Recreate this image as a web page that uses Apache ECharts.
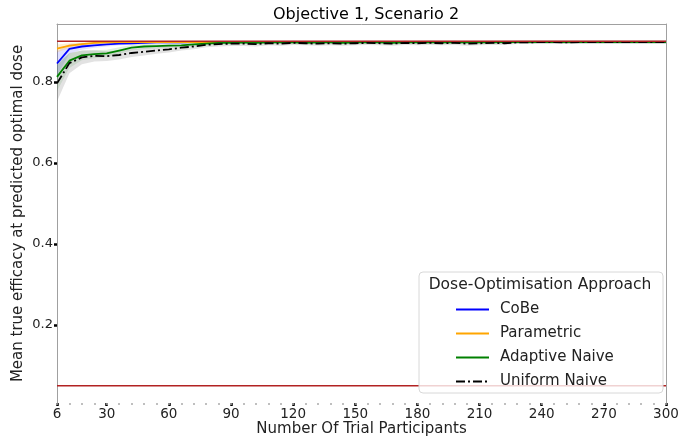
<!DOCTYPE html>
<html>
<head>
<meta charset="utf-8">
<script src="https://cdn.jsdelivr.net/npm/echarts@6/dist/echarts.min.js"></script>
<style>
  html, body { margin: 0; padding: 0; background: #fff; }
  #chart { width: 680px; height: 443px; }
</style>
</head>
<body>
<div id="chart"></div>
<script>
// number of trial participants
var participants = [6, 12, 18, 24, 30, 36, 42, 48, 54, 60, 66, 72, 78, 84, 90, 96, 102, 108, 114, 120,
  126, 132, 138, 144, 150, 156, 162, 168, 174, 180, 186, 192, 198, 204, 210, 216, 222, 228, 234, 240,
  246, 252, 258, 264, 270, 276, 282, 288, 294, 300];

var cobe = [0.845, 0.881, 0.887, 0.890, 0.892, 0.894, 0.895, 0.896, 0.897, 0.897, 0.897, 0.898, 0.898, 0.898, 0.898, 0.898, 0.898, 0.898, 0.898, 0.898,
  0.898, 0.898, 0.898, 0.898, 0.898, 0.898, 0.898, 0.898, 0.898, 0.898, 0.898, 0.898, 0.898, 0.898, 0.898, 0.898, 0.898, 0.898, 0.898, 0.898,
  0.898, 0.898, 0.898, 0.898, 0.898, 0.898, 0.898, 0.898, 0.898, 0.898];
var cobeHw = [0.030, 0.012, 0.008, 0.006, 0.005, 0.004, 0.004, 0.003, 0.003, 0.003, 0.003, 0.003, 0.003, 0.003, 0.003, 0.003, 0.003, 0.003, 0.003, 0.003,
  0.003, 0.003, 0.003, 0.003, 0.003, 0.003, 0.003, 0.003, 0.003, 0.003, 0.003, 0.003, 0.003, 0.003, 0.003, 0.003, 0.003, 0.003, 0.003, 0.003,
  0.003, 0.003, 0.003, 0.003, 0.003, 0.003, 0.003, 0.003, 0.003, 0.003];

var parametric = [0.882, 0.889, 0.893, 0.896, 0.897, 0.898, 0.898, 0.898, 0.898, 0.898, 0.898, 0.898, 0.898, 0.898, 0.898, 0.898, 0.898, 0.898, 0.898, 0.898,
  0.898, 0.898, 0.898, 0.898, 0.898, 0.898, 0.898, 0.898, 0.898, 0.898, 0.898, 0.898, 0.898, 0.898, 0.898, 0.898, 0.898, 0.898, 0.898, 0.898,
  0.898, 0.898, 0.898, 0.898, 0.898, 0.898, 0.898, 0.898, 0.898, 0.898];
var parametricHw = [0.010, 0.006, 0.004, 0.003, 0.002, 0.002, 0.002, 0.002, 0.002, 0.002, 0.002, 0.002, 0.002, 0.002, 0.002, 0.002, 0.002, 0.002, 0.002, 0.002,
  0.002, 0.002, 0.002, 0.002, 0.002, 0.002, 0.002, 0.002, 0.002, 0.002, 0.002, 0.002, 0.002, 0.002, 0.002, 0.002, 0.002, 0.002, 0.002, 0.002,
  0.002, 0.002, 0.002, 0.002, 0.002, 0.002, 0.002, 0.002, 0.002, 0.002];

var adaptive = [0.812, 0.852, 0.865, 0.868, 0.870, 0.877, 0.884, 0.887, 0.888, 0.889, 0.890, 0.892, 0.894, 0.896, 0.896, 0.897, 0.896, 0.897, 0.897, 0.897,
  0.896, 0.897, 0.897, 0.896, 0.897, 0.897, 0.897, 0.896, 0.897, 0.897, 0.898, 0.897, 0.897, 0.897, 0.897, 0.897, 0.898, 0.898, 0.898, 0.898,
  0.898, 0.898, 0.898, 0.898, 0.898, 0.898, 0.898, 0.898, 0.898, 0.898];
var adaptiveHw = [0.035, 0.018, 0.012, 0.010, 0.009, 0.008, 0.007, 0.006, 0.006, 0.005, 0.005, 0.005, 0.005, 0.004, 0.004, 0.004, 0.004, 0.004, 0.004, 0.004,
  0.004, 0.004, 0.004, 0.004, 0.004, 0.004, 0.004, 0.004, 0.004, 0.004, 0.004, 0.004, 0.004, 0.004, 0.004, 0.004, 0.004, 0.004, 0.004, 0.004,
  0.004, 0.004, 0.004, 0.004, 0.004, 0.004, 0.004, 0.004, 0.004, 0.004];

var uniform = [0.796, 0.846, 0.860, 0.864, 0.863, 0.866, 0.871, 0.874, 0.877, 0.880, 0.884, 0.887, 0.891, 0.893, 0.894, 0.894, 0.893, 0.895, 0.894, 0.896,
  0.895, 0.894, 0.895, 0.894, 0.895, 0.896, 0.895, 0.894, 0.896, 0.895, 0.896, 0.895, 0.896, 0.894, 0.895, 0.896, 0.895, 0.897, 0.897, 0.898,
  0.898, 0.897, 0.898, 0.898, 0.898, 0.898, 0.898, 0.898, 0.898, 0.898];
var uniformHw = [0.045, 0.025, 0.017, 0.014, 0.012, 0.011, 0.010, 0.009, 0.008, 0.008, 0.007, 0.007, 0.006, 0.006, 0.006, 0.006, 0.006, 0.005, 0.005, 0.005,
  0.005, 0.005, 0.005, 0.005, 0.005, 0.005, 0.005, 0.005, 0.005, 0.005, 0.005, 0.005, 0.005, 0.005, 0.005, 0.005, 0.004, 0.004, 0.004, 0.004,
  0.004, 0.004, 0.004, 0.004, 0.004, 0.004, 0.004, 0.004, 0.004, 0.004];

// reference levels (true optimal efficacy and lower bound)
var refLevels = [0.9, 0.05];

var xTicks = [6, 30, 60, 90, 120, 150, 180, 210, 240, 270, 300];
var yTicks = [0.2, 0.4, 0.6, 0.8];

var FONT = 'DejaVu Sans';

function pairs(vals) {
  return participants.map(function (x, i) { return [x, vals[i]]; });
}

function band(name, mean, hw, fill) {
  return {
    name: name,
    type: 'custom',
    silent: true,
    z: 1,
    data: participants.map(function (x, i) { return [x, mean[i] - hw[i], mean[i] + hw[i]]; }),
    encode: { x: 0, y: [1, 2] },
    renderItem: function (params, api) {
      if (params.dataIndex !== 0) return;
      var pts = [];
      for (var i = 0; i < participants.length; i++) {
        pts.push(api.coord([participants[i], mean[i] + hw[i]]));
      }
      for (var j = participants.length - 1; j >= 0; j--) {
        pts.push(api.coord([participants[j], mean[j] - hw[j]]));
      }
      return { type: 'polygon', shape: { points: pts }, style: { fill: fill } };
    }
  };
}

function line(name, vals, color, type) {
  return {
    name: name,
    type: 'line',
    data: pairs(vals),
    symbol: 'none',
    z: 3,
    lineStyle: { color: color, width: 1.8, type: type || 'solid' },
    itemStyle: { color: color }
  };
}

function refLine(v) {
  return {
    type: 'line',
    silent: true,
    symbol: 'none',
    z: 4,
    data: [[6, v], [300, v]],
    lineStyle: { color: '#b22222', width: 1.6 }
  };
}

var myChart = echarts.init(document.getElementById('chart'));

var option = {
  animation: false,
  textStyle: { fontFamily: FONT },
  grid: { left: 57, right: 14, top: 24, bottom: 40, containLabel: false, outerBoundsMode: 'none' },
  title: {
    text: 'Objective 1, Scenario 2',
    left: 361,
    top: 2,
    textAlign: 'center',
    textStyle: { fontFamily: FONT, fontSize: 16, fontWeight: 'normal', color: '#000' }
  },
  legend: {
    orient: 'vertical',
    left: 450,
    top: 297,
    itemWidth: 33,
    itemHeight: 14,
    itemGap: 9,
    z: 60,
    data: ['CoBe', 'Parametric', 'Adaptive Naive', 'Uniform Naive'],
    itemStyle: { color: 'transparent', borderWidth: 0, opacity: 0 },
    textStyle: { fontFamily: FONT, fontSize: 15, color: '#222', padding: [0, 0, 0, 6] }
  },
  graphic: [
    {
      type: 'rect',
      z: 50,
      shape: { x: 419, y: 272, width: 244, height: 121, r: 4 },
      style: { fill: 'rgba(255,255,255,0.8)', stroke: '#d8d8d8', lineWidth: 1 }
    },
    {
      type: 'text',
      z: 60,
      x: 540,
      y: 285,
      style: {
        text: 'Dose-Optimisation Approach',
        font: '15.5px "DejaVu Sans"',
        fill: '#222',
        align: 'center',
        verticalAlign: 'middle'
      }
    }
  ],
  xAxis: [
    {
      type: 'value',
      min: 6,
      max: 300,
      name: 'Number Of Trial Participants',
      nameLocation: 'middle',
      nameGap: 19,
      nameMoveOverlap: false,
      nameTextStyle: { fontFamily: FONT, fontSize: 15, color: '#222' },
      axisLine: { show: false },
      axisTick: { show: true, length: 3, customValues: xTicks, lineStyle: { color: '#000', width: 2.5 } },
      axisLabel: { customValues: xTicks, margin: 4, fontSize: 13.5, color: '#222', fontFamily: FONT },
      splitLine: { show: false }
    },
    {
      type: 'value',
      min: 6,
      max: 300,
      interval: 6,
      position: 'bottom',
      axisLine: { show: false },
      axisTick: { show: true, length: 2, lineStyle: { color: '#aaa', width: 1.5 } },
      axisLabel: { show: false },
      splitLine: { show: false }
    },
    {
      type: 'value',
      min: 6,
      max: 300,
      position: 'top',
      axisLine: { show: true, lineStyle: { color: '#a0a0a0', width: 1 } },
      axisTick: { show: false },
      axisLabel: { show: false },
      splitLine: { show: false }
    }
  ],
  yAxis: [
    {
      type: 'value',
      min: 0.0075,
      max: 0.9425,
      name: 'Mean true efficacy at predicted optimal dose',
      nameLocation: 'middle',
      nameGap: 31,
      nameMoveOverlap: false,
      nameTextStyle: { fontFamily: FONT, fontSize: 15, color: '#222' },
      axisLine: { show: true, lineStyle: { color: '#a0a0a0', width: 1 } },
      axisTick: { show: true, length: 3, customValues: yTicks, lineStyle: { color: '#000', width: 2.5 } },
      axisLabel: {
        customValues: yTicks,
        margin: 4,
        fontSize: 13,
        color: '#222',
        fontFamily: FONT,
        formatter: function (v) { return v.toFixed(1); }
      },
      splitLine: { show: false }
    },
    {
      type: 'value',
      min: 0.0075,
      max: 0.9425,
      position: 'right',
      axisLine: { show: true, lineStyle: { color: '#a0a0a0', width: 1 } },
      axisTick: { show: false },
      axisLabel: { show: false },
      splitLine: { show: false }
    }
  ],
  series: [
    band('cobeBand', cobe, cobeHw, 'rgba(0,0,255,0.12)'),
    band('parametricBand', parametric, parametricHw, 'rgba(255,165,0,0.18)'),
    band('adaptiveBand', adaptive, adaptiveHw, 'rgba(0,128,0,0.12)'),
    band('uniformBand', uniform, uniformHw, 'rgba(110,110,110,0.2)'),
    line('CoBe', cobe, '#0000ff'),
    line('Parametric', parametric, '#ffa500'),
    line('Adaptive Naive', adaptive, '#008000'),
    line('Uniform Naive', uniform, '#000000', [9, 3, 2, 3]),
    refLine(refLevels[0]),
    refLine(refLevels[1])
  ]
};

myChart.setOption(option);
</script>
</body>
</html>
